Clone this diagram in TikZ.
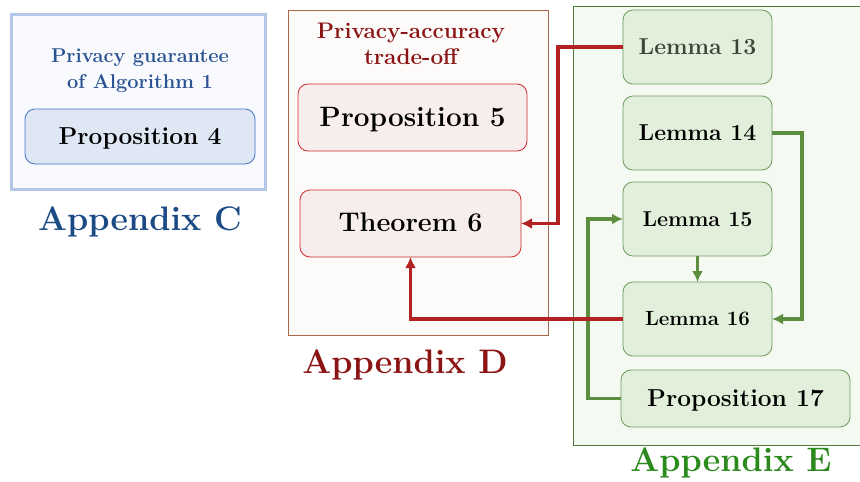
\documentclass[tikz,border=0pt]{standalone}
\usepackage{fontspec}
\usetikzlibrary{arrows.meta}
\definecolor{cborder}{HTML}{B4C7E7}
\definecolor{cfill}{HTML}{F8FAFD}
\definecolor{ctext}{HTML}{2B5393}
\definecolor{ctitle}{HTML}{1B4A85}
\definecolor{pfourfill}{HTML}{DFE7F4}
\definecolor{pfourdraw}{HTML}{4472C4}
\definecolor{dborder}{HTML}{A8684A}
\definecolor{dfill}{HTML}{FDFBFA}
\definecolor{dtext}{HTML}{8B1414}
\definecolor{dboxfill}{HTML}{F8EDED}
\definecolor{dboxdraw}{HTML}{D02A2A}
\definecolor{eborder}{HTML}{4E7A3C}
\definecolor{efill}{HTML}{F4F9F1}
\definecolor{lemfill}{HTML}{E2EFDA}
\definecolor{lemdraw}{HTML}{6E9A5E}
\definecolor{greenarr}{HTML}{5B8F3F}
\definecolor{redarr}{HTML}{B22222}
\definecolor{etitle}{HTML}{2A8A1C}
\definecolor{lemtext}{HTML}{3A4638}
\newcommand\fsz[2]{\fontsize{#1}{#2}\selectfont\bfseries}
\begin{document}
\begin{tikzpicture}[x=1pt,y=-1pt,
  apbox/.style={inner sep=0pt, outer sep=0pt},
  rbox/.style={rounded corners=10pt, line width=0.8pt, inner sep=0pt, outer sep=0pt},
  lembox/.style={rbox, draw=lemdraw, fill=lemfill, minimum width=149pt, minimum height=74pt},
  dbox/.style={rbox, draw=dboxdraw, fill=dboxfill},
  rarrow/.style={draw=redarr, line width=3.5pt, -{Latex[length=11pt,width=11pt]}},
  garrow/.style={draw=greenarr, line width=3.5pt, -{Latex[length=11pt,width=11pt]}},
  ttl/.style={inner sep=0pt, font=\fsz{34}{40}}
]
\useasboundingbox (0,0) rectangle (860,482);
\fill[white] (0,0) rectangle (860,482);

% Appendix C
\node[apbox, draw=cborder, fill=cfill, line width=3pt, minimum width=254pt, minimum height=175pt] (boxc) at (138,101.5) {};
\node[inner sep=0pt, align=center, text=ctext, font=\fsz{20}{26}] (pg) at (140,71) {Privacy guarantee\\of Algorithm 1};
\node[rbox, draw=pfourdraw, fill=pfourfill, minimum width=230pt, minimum height=55pt, text depth=0pt, font=\fsz{24.5}{30}] (p4) at (140,136.5) {Proposition 4};
\node[ttl, text=ctitle] (tc) at (140,222) {Appendix C};

% Appendix D
\node[apbox, draw=dborder, fill=dfill, line width=0.8pt, minimum width=260pt, minimum height=325pt] (boxd) at (418,172.5) {};
\node[inner sep=0pt, align=center, text=dtext, font=\fsz{22.5}{26}] (pa) at (411,44) {Privacy-accuracy\\trade-off};
\node[dbox, minimum width=229pt, minimum height=67pt, text depth=2pt, font=\fsz{28}{34}] (p5) at (412.5,117.5) {Proposition 5};
\node[dbox, minimum width=221pt, minimum height=67pt, text depth=3pt, font=\fsz{27}{33}] (th6) at (410.5,223.5) {Theorem 6};
\node[ttl, text=dtext] (td) at (405,365) {Appendix D};

% Appendix E
\node[apbox, draw=eborder, fill=efill, line width=0.8pt, minimum width=287pt, minimum height=439pt] (boxe) at (716.5,225.5) {};
\node[lembox, font=\fsz{23}{28}, text=lemtext] (l13) at (697.5,47) {Lemma 13};
\node[lembox, font=\fsz{23}{28}] (l14) at (697.5,133) {Lemma 14};
\node[lembox, font=\fsz{21.5}{26}] (l15) at (697.5,219) {Lemma 15};
\node[lembox, font=\fsz{20.5}{25}] (l16) at (697.5,319) {Lemma 16};
\node[rbox, draw=lemdraw, fill=lemfill, minimum width=229pt, minimum height=57pt, text depth=0pt, font=\fsz{24.5}{30}] (p17) at (735.5,398.5) {Proposition 17};
\node[ttl, text=etitle] (te) at (731,463) {Appendix E};

% green arrows
\draw[garrow] (l14.east) -- ++(30,0) |- (l16.east);
\draw[garrow] (l15.south) -- (l16.north);
\draw[garrow] (p17.west) -- ++(-33,0) |- (l15.west);

% red arrows
\draw[rarrow] (l13.west) -- ++(-65,0) |- (th6.east);
\draw[rarrow] (l16.west) -| (th6.south);
\end{tikzpicture}
\end{document}
